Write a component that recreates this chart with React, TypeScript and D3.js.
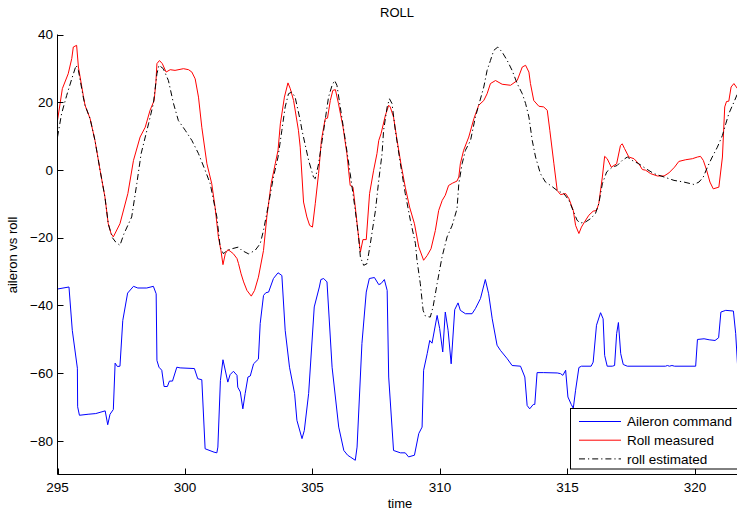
import React from "react";
import * as d3 from "d3";

const xTicks = [295, 300, 305, 310, 315, 320];
const yTicks = [-80, -60, -40, -20, 0, 20, 40];

const aileronCommand: [number, number][] = [
  [295.0,-35.2],[295.45,-34.6],[295.58,-47.4],[295.78,-58.6],[295.79,-70],[295.86,-72.5],[296.2,-72.2],[296.5,-72.0],[296.87,-71.2],[296.97,-75.3],[297.06,-72.2],[297.19,-70.8],[297.26,-57.1],[297.35,-58.1],[297.45,-58],[297.56,-44.5],[297.75,-36.4],[297.98,-34.4],[298.15,-34.9],[298.5,-34.9],[298.76,-34.4],[298.87,-36.6],[298.9,-56.3],[298.98,-58.3],[299.09,-59.2],[299.18,-64],[299.31,-64],[299.39,-62.4],[299.51,-62.4],[299.68,-58.3],[299.81,-58.5],[300.37,-58.7],[300.5,-61.7],[300.66,-62],[300.79,-82.4],[301.14,-83.4],[301.25,-83.6],[301.29,-81.9],[301.39,-62.2],[301.49,-56.1],[301.68,-62.7],[301.77,-60.5],[301.9,-59.5],[302.04,-60.7],[302.07,-64.2],[302.17,-65.6],[302.27,-70.6],[302.36,-66.1],[302.47,-61.2],[302.56,-60.9],[302.69,-57.3],[302.88,-55.9],[302.95,-45.4],[303.08,-37.1],[303.17,-36.3],[303.28,-36.1],[303.47,-32.1],[303.65,-30.4],[303.8,-31.2],[303.93,-47.4],[304.1,-58.3],[304.3,-66.1],[304.39,-74],[304.59,-79.4],[304.68,-77],[304.85,-66.1],[305.07,-40.5],[305.27,-34.6],[305.33,-32.4],[305.44,-32.1],[305.57,-33.1],[305.77,-58.3],[306.03,-76],[306.23,-82.9],[306.38,-84.3],[306.48,-84.8],[306.68,-85.8],[306.75,-81.9],[306.94,-51.3],[307.11,-36.1],[307.23,-32.1],[307.43,-31.8],[307.6,-33.9],[307.69,-33.6],[307.82,-32.4],[307.93,-35.6],[307.99,-61.2],[308.18,-82.9],[308.45,-83.6],[308.64,-83.6],[308.77,-84.8],[309.0,-84.3],[309.17,-77.9],[309.3,-76],[309.36,-59.2],[309.5,-54.3],[309.6,-50.4],[309.69,-51.2],[309.89,-43],[309.99,-46.9],[310.11,-53.8],[310.21,-42],[310.32,-47.4],[310.44,-57.3],[310.58,-41.3],[310.71,-39.3],[310.8,-41.5],[311.0,-42.5],[311.26,-42.5],[311.39,-41],[311.59,-38],[311.78,-32.4],[311.91,-36.6],[312.05,-44],[312.24,-51.8],[312.37,-53.3],[312.64,-55.8],[312.83,-57.8],[313.16,-58],[313.33,-61.2],[313.42,-69.6],[313.52,-70.6],[313.66,-69.3],[313.72,-69.3],[313.81,-59.9],[314.07,-59.9],[314.6,-60],[314.73,-60.2],[314.82,-60.7],[314.93,-59.2],[315.02,-67.1],[315.15,-69.3],[315.23,-70.4],[315.32,-65.1],[315.45,-58.4],[315.55,-58],[315.93,-58],[316.01,-56.8],[316.14,-45.9],[316.3,-42.2],[316.4,-44],[316.46,-54.8],[316.56,-58],[316.76,-58],[316.85,-57.8],[316.93,-48.4],[317.0,-45.1],[317.09,-54.3],[317.19,-57.5],[317.35,-58],[318.85,-58],[318.92,-57.8],[319.0,-58],[319.1,-57.8],[319.2,-58],[320.03,-58],[320.1,-50.1],[320.36,-49.9],[320.56,-50.2],[320.79,-50.4],[320.93,-49.6],[321.02,-42],[321.21,-41.5],[321.51,-41.7],[321.6,-48.4],[321.67,-57.3]
];

const rollMeasured: [number, number][] = [
  [295.0,14.6],[295.19,24],[295.42,28.4],[295.56,32.9],[295.62,36.3],[295.75,36.8],[295.82,30.4],[296.01,22],[296.08,19.1],[296.28,15.1],[296.47,8.7],[296.67,-0.1],[296.86,-8],[296.99,-15.9],[297.1,-18.8],[297.19,-19.8],[297.45,-15.9],[297.76,-7],[297.98,2.8],[298.24,9.7],[298.44,12.6],[298.63,17.6],[298.79,20.5],[298.86,25.9],[298.9,31.4],[299.0,32.3],[299.11,31.4],[299.26,28.9],[299.42,29.6],[299.61,29.4],[299.94,29.9],[300.14,29.6],[300.27,28.9],[300.4,26.9],[300.53,21.5],[300.66,12.6],[300.86,1.8],[301.05,-4.1],[301.18,-11],[301.31,-19.8],[301.41,-23.8],[301.49,-28],[301.58,-24.8],[301.68,-23.6],[301.77,-24],[301.9,-24.8],[302.04,-26.2],[302.1,-27.7],[302.2,-30.7],[302.3,-33.1],[302.43,-35.6],[302.6,-37.3],[302.73,-35.6],[302.88,-31.7],[303.08,-23.8],[303.21,-13.9],[303.38,-4.1],[303.54,1.8],[303.65,5.8],[303.74,13.6],[303.9,21.5],[304.04,25.7],[304.13,24],[304.26,20.5],[304.45,11.7],[304.52,6.7],[304.65,-9.5],[304.78,-13.9],[304.89,-16.4],[305.0,-16.9],[305.11,-10],[305.24,-1.1],[305.35,8.7],[305.44,12.6],[305.5,15.1],[305.59,15.3],[305.7,20.5],[305.8,23.5],[305.9,23.7],[306.02,19.6],[306.2,12.6],[306.35,4.8],[306.48,-4.6],[306.59,-5.1],[306.68,-11],[306.78,-17.9],[306.88,-24.3],[306.92,-22.8],[306.98,-20.6],[307.11,-20.6],[307.24,-7],[307.4,-0.1],[307.53,4.8],[307.6,8.7],[307.69,10.7],[307.86,16.1],[307.99,19.1],[308.05,18.6],[308.18,15.6],[308.32,8.7],[308.47,1.8],[308.64,-5.1],[308.81,-11],[309.0,-15.9],[309.17,-22.8],[309.36,-26.7],[309.5,-25.3],[309.65,-23.3],[309.82,-17.9],[309.95,-12],[310.09,-9],[310.21,-7.5],[310.34,-4.6],[310.5,-3.9],[310.67,-3.3],[310.74,-2.1],[310.8,1.8],[310.93,5.8],[311.13,9.7],[311.33,15.1],[311.52,19.1],[311.72,20.5],[311.85,22.5],[311.98,25.5],[312.18,26.4],[312.44,25.3],[312.77,25],[313.03,26.4],[313.23,30.4],[313.36,30.9],[313.49,28.9],[313.55,25.5],[313.68,20.5],[313.88,18.8],[314.07,18.6],[314.21,17.6],[314.31,11.7],[314.47,1.8],[314.6,-6.1],[314.73,-7.3],[314.93,-7],[315.06,-8.5],[315.23,-12],[315.32,-16.4],[315.45,-18.8],[315.55,-16.9],[315.67,-15.4],[315.84,-13.4],[316.01,-12.2],[316.14,-12],[316.23,-10],[316.37,-2.1],[316.46,4],[316.56,3.3],[316.72,0.8],[316.93,1.8],[317.08,7.2],[317.15,7.7],[317.24,6.3],[317.41,3.8],[317.61,3.3],[317.8,1.8],[317.94,0.1],[318.07,-0.1],[318.26,-1.1],[318.53,-1.8],[318.79,-1.8],[318.98,-0.9],[319.2,0.8],[319.37,2.5],[319.64,3],[319.9,3.3],[320.1,3.8],[320.22,4],[320.33,2.8],[320.46,-0.1],[320.59,-3.6],[320.72,-5.6],[320.94,-5.1],[321.08,3.8],[321.17,18.6],[321.24,20.2],[321.33,20.3],[321.42,24.5],[321.53,25.5],[321.67,24]
];

const rollEstimated: [number, number][] = [
  [295.0,9.7],[295.16,16.6],[295.36,22],[295.56,26.9],[295.73,30.9],[295.82,29.4],[296.01,21.5],[296.08,19.1],[296.28,15.1],[296.47,8.7],[296.67,-0.1],[296.86,-8],[296.99,-15.9],[297.15,-20],[297.28,-21.3],[297.45,-22.3],[297.6,-19],[297.91,-13.9],[298.11,-4.1],[298.28,4.8],[298.57,13.6],[298.76,19.6],[298.9,28.4],[298.98,30.9],[299.15,29.9],[299.35,26.4],[299.55,19.6],[299.74,14.6],[300.01,11.7],[300.27,8.7],[300.53,4.8],[300.79,-0.1],[300.99,-4.1],[301.25,-13.9],[301.38,-22.8],[301.51,-24.8],[301.64,-23.8],[301.84,-23.3],[302.1,-22.8],[302.23,-23.8],[302.49,-24.8],[302.75,-23.8],[302.95,-21.8],[303.08,-17.9],[303.28,-10],[303.47,-2.1],[303.65,3.8],[303.8,11.7],[303.93,18.6],[304.06,22.5],[304.19,23],[304.32,21.5],[304.52,14.6],[304.59,11.7],[304.85,2.8],[305.04,-2.1],[305.11,-2.6],[305.24,1.8],[305.44,11.7],[305.63,21.5],[305.77,25],[305.87,26.4],[305.96,25],[306.09,18.6],[306.29,8.7],[306.48,-1.1],[306.68,-12],[306.81,-19.8],[306.88,-25.8],[307.01,-28.2],[307.14,-27.7],[307.27,-21.8],[307.47,-12],[307.6,-3.1],[307.73,4.8],[307.79,11.7],[307.93,18.6],[308.02,21],[308.12,19.6],[308.25,11.7],[308.45,1.8],[308.64,-7],[308.84,-14.9],[309.04,-21.8],[309.1,-26.7],[309.23,-33.6],[309.34,-41.5],[309.43,-43.2],[309.62,-43.5],[309.73,-40.5],[309.89,-33.6],[310.08,-25.8],[310.28,-19.8],[310.48,-16.4],[310.67,-11.5],[310.74,-4.1],[310.87,1.8],[311.0,5.8],[311.2,8.7],[311.39,15.6],[311.52,19.1],[311.72,24.5],[311.85,29.4],[311.98,32.3],[312.11,35.3],[312.27,36.3],[312.44,34.8],[312.64,32.3],[312.83,29.4],[313.03,25.5],[313.23,22.5],[313.36,19.6],[313.49,15.6],[313.62,8.7],[313.75,3.8],[313.94,-1.1],[314.14,-3.6],[314.34,-4.6],[314.6,-6.1],[314.86,-7],[315.06,-9],[315.25,-12.5],[315.38,-14.9],[315.51,-15.7],[315.71,-15.4],[315.91,-14.4],[316.1,-12.9],[316.23,-10],[316.37,-4.1],[316.54,-0.6],[316.76,0.8],[316.95,1.3],[317.15,2.8],[317.35,3.8],[317.54,2.8],[317.8,1.8],[318.07,0.4],[318.39,-1.1],[318.79,-2.1],[319.18,-3.1],[319.57,-3.6],[319.96,-4.3],[320.16,-3.6],[320.33,-2.1],[320.49,0.8],[320.68,3.8],[320.88,6.7],[321.08,10.2],[321.21,13.6],[321.33,16.6],[321.53,20],[321.67,22.5]
];

const legendItems = [
  { label: "Aileron command", color: "#0000ff", dash: "none" },
  { label: "Roll measured", color: "#ff0000", dash: "none" },
  { label: "roll estimated", color: "#000000", dash: "6,3,1.2,3" },
];

const W = 737;
const H = 512;
const FONT = "'Liberation Sans', Arial, Helvetica, sans-serif";

export default function App() {
  const left = 57.5;
  const bottom = 474.5;
  const top = 34.5;
  const x = d3.scaleLinear().domain([295, 320]).range([left, 694.9]);
  const y = d3.scaleLinear().domain([-90, 40]).range([bottom, top]);
  const line = d3
    .line<[number, number]>()
    .x((d) => x(d[0]))
    .y((d) => y(d[1]));
  const fmt = (v: number) => (v < 0 ? "\u2212" + Math.abs(v) : String(v));

  return (
    <svg
      width={W}
      height={H}
      style={{ position: "absolute", left: 0, top: 0, background: "#fff" }}
      fontFamily={FONT}
    >
      <rect x={0} y={0} width={W} height={H} fill="#fff" />
      <defs>
        <clipPath id="plotClip">
          <rect x={left} y={0} width={W - left} height={bottom} />
        </clipPath>
      </defs>
      <g clipPath="url(#plotClip)" fill="none" strokeWidth={1}>
        <path d={line(aileronCommand) || ""} stroke="#0000ff" />
        <path d={line(rollMeasured) || ""} stroke="#ff0000" />
        <path d={line(rollEstimated) || ""} stroke="#000" strokeDasharray="6,3,1.2,3" />
      </g>
      {/* axes */}
      <line x1={left} x2={left} y1={top} y2={bottom} stroke="#000" />
      <line x1={left} x2={W} y1={bottom} y2={bottom} stroke="#000" />
      {yTicks.map((t) => (
        <g key={"y" + t}>
          <line x1={left} x2={left + 6} y1={Math.round(y(t)) + 0.5} y2={Math.round(y(t)) + 0.5} stroke="#000" />
          <text x={53} y={y(t)} dy="0.36em" textAnchor="end" fontSize={13.5} fill="#000">
            {fmt(t)}
          </text>
        </g>
      ))}
      {xTicks.map((t) => (
        <g key={"x" + t}>
          <line x1={Math.round(x(t)) + 0.5} x2={Math.round(x(t)) + 0.5} y1={bottom} y2={bottom - 6} stroke="#000" />
          <text x={x(t)} y={492} textAnchor="middle" fontSize={13.5} fill="#000">
            {t}
          </text>
        </g>
      ))}
      <text x={397} y={17} textAnchor="middle" fontSize={13} fill="#000">
        ROLL
      </text>
      <text x={400} y={508} textAnchor="middle" fontSize={13} fill="#000">
        time
      </text>
      <text
        transform={`translate(17, ${255}) rotate(-90)`}
        textAnchor="middle"
        fontSize={13}
        fill="#000"
      >
        aileron vs roll
      </text>
      {/* legend */}
      <rect x={570.5} y={408.5} width={180} height={60.5} fill="#fff" stroke="#000" strokeWidth={1} />
      {legendItems.map((it, i) => {
        const cy = 421.5 + i * 18.7;
        return (
          <g key={it.label}>
            <line
              x1={579}
              x2={621}
              y1={cy}
              y2={cy}
              stroke={it.color}
              strokeDasharray={it.dash}
            />
            <text x={627} y={cy} dy="0.36em" fontSize={13.5} fill="#000">
              {it.label}
            </text>
          </g>
        );
      })}
    </svg>
  );
}
